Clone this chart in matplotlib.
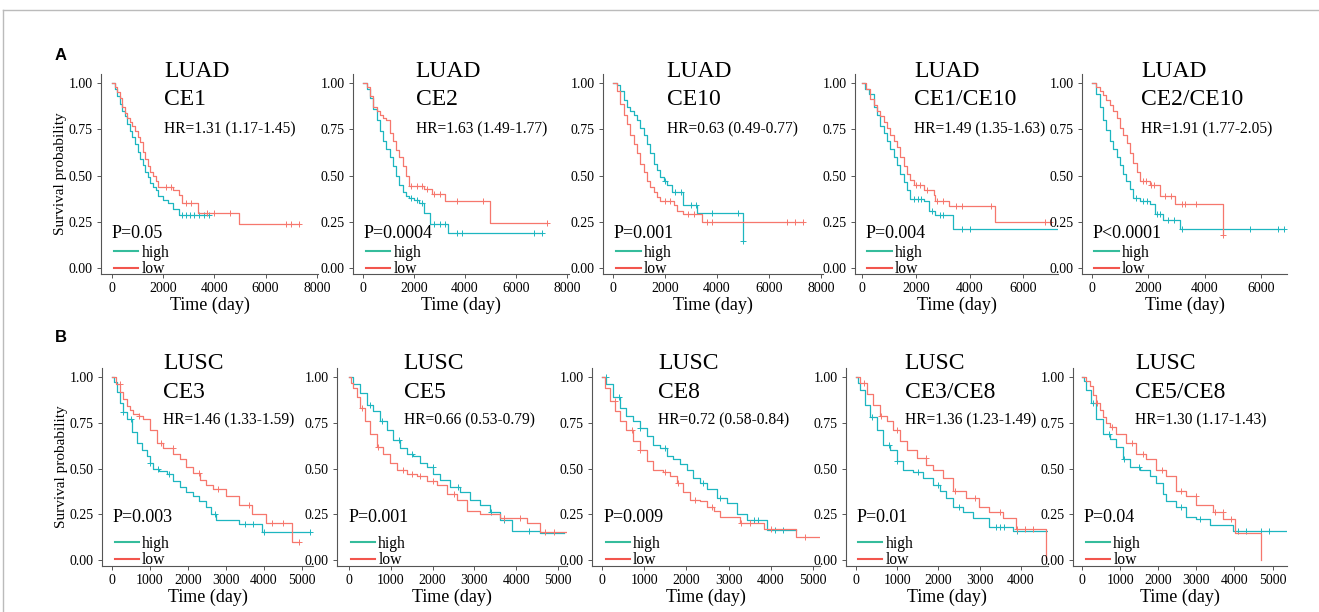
import numpy as np
import matplotlib
matplotlib.use("Agg")
import matplotlib.pyplot as plt
from matplotlib.lines import Line2D

plt.rcParams['font.family'] = ['Liberation Serif', 'DejaVu Serif']

# ---- data: Kaplan-Meier step curves (time in days, survival) + censor times ----
# LUAD CE1
luad_ce1_high_t = [0, 100, 200, 300, 400, 500, 600, 700, 800, 900, 1000, 1100, 1200, 1300, 1400, 1500, 1600, 1700, 1800, 2000, 2200, 2400, 2600, 3780]
luad_ce1_high_s = [1.0, 0.97, 0.93, 0.89, 0.85, 0.82, 0.78, 0.74, 0.71, 0.67, 0.63, 0.59, 0.56, 0.52, 0.49, 0.46, 0.44, 0.42, 0.39, 0.37, 0.35, 0.32, 0.286, 0.286]
luad_ce1_high_c = [2750, 2900, 3050, 3200, 3400, 3600, 3780]
luad_ce1_low_t = [0, 100, 200, 300, 400, 500, 600, 700, 800, 900, 1000, 1100, 1200, 1300, 1400, 1500, 1600, 1700, 1800, 2400, 2600, 2750, 3350, 4950, 7300]
luad_ce1_low_s = [1.0, 0.98, 0.95, 0.92, 0.87, 0.84, 0.81, 0.79, 0.77, 0.74, 0.71, 0.68, 0.63, 0.59, 0.55, 0.52, 0.50, 0.47, 0.44, 0.42, 0.395, 0.35, 0.295, 0.237, 0.237]
luad_ce1_low_c = [2100, 2300, 2900, 3100, 3700, 4000, 4600, 6800, 7000, 7300]

# LUAD CE2
luad_ce2_high_t = [0, 150, 280, 400, 535, 660, 790, 920, 1045, 1170, 1300, 1420, 1550, 1680, 1810, 2000, 2190, 2380, 2640, 3340, 7000]
luad_ce2_high_s = [1.0, 0.97, 0.92, 0.86, 0.80, 0.74, 0.69, 0.645, 0.60, 0.55, 0.50, 0.45, 0.41, 0.39, 0.38, 0.37, 0.35, 0.30, 0.24, 0.19, 0.19]
luad_ce2_high_c = [1900, 2100, 2300, 2800, 3000, 3200, 3700, 3900, 6700, 7000]
luad_ce2_low_t = [0, 150, 280, 410, 540, 665, 790, 920, 1045, 1170, 1300, 1420, 1550, 1680, 1810, 2380, 2700, 3210, 4970, 7230]
luad_ce2_low_s = [1.0, 0.98, 0.93, 0.87, 0.85, 0.83, 0.81, 0.80, 0.73, 0.69, 0.64, 0.60, 0.55, 0.50, 0.445, 0.425, 0.40, 0.36, 0.245, 0.245]
luad_ce2_low_c = [1900, 2100, 2300, 2500, 2800, 3000, 3700, 4700, 7230]

# LUAD CE10
luad_ce10_high_t = [0, 150, 280, 410, 540, 660, 790, 920, 1050, 1180, 1300, 1430, 1560, 1690, 1815, 1950, 2070, 2260, 2710, 3220, 5010]
luad_ce10_high_s = [1.0, 0.99, 0.96, 0.91, 0.87, 0.85, 0.83, 0.80, 0.76, 0.72, 0.67, 0.62, 0.565, 0.53, 0.49, 0.47, 0.45, 0.41, 0.34, 0.295, 0.147]
luad_ce10_high_c = [2000, 2400, 2600, 3000, 3200, 3800, 4800, 5010]
luad_ce10_low_t = [0, 150, 280, 410, 540, 660, 790, 920, 1050, 1180, 1300, 1430, 1560, 1690, 1815, 2330, 2460, 2710, 3410, 7310]
luad_ce10_low_s = [1.0, 0.96, 0.89, 0.83, 0.78, 0.72, 0.67, 0.62, 0.565, 0.52, 0.47, 0.44, 0.41, 0.385, 0.36, 0.34, 0.31, 0.29, 0.25, 0.25]
luad_ce10_low_c = [2000, 2200, 2900, 3100, 3600, 3800, 6700, 7000, 7310]

# LUAD CE1/CE10
luad_ce1ce10_high_t = [0, 130, 250, 430, 560, 680, 800, 930, 1050, 1175, 1300, 1420, 1545, 1670, 1800, 2290, 2480, 2720, 3400, 7240]
luad_ce1ce10_high_s = [1.0, 0.97, 0.94, 0.87, 0.83, 0.77, 0.73, 0.69, 0.645, 0.60, 0.555, 0.51, 0.465, 0.42, 0.375, 0.36, 0.31, 0.285, 0.21, 0.21]
luad_ce1ce10_high_c = [1950, 2100, 2200, 2600, 2900, 3000, 3700, 4000]
luad_ce1ce10_low_t = [0, 150, 310, 430, 560, 680, 800, 930, 1050, 1175, 1300, 1420, 1550, 1670, 1800, 1920, 2290, 2660, 2720, 3220, 4930, 7000]
luad_ce1ce10_low_s = [1.0, 0.97, 0.915, 0.88, 0.85, 0.82, 0.79, 0.755, 0.72, 0.69, 0.655, 0.60, 0.55, 0.51, 0.475, 0.45, 0.42, 0.395, 0.36, 0.335, 0.25, 0.25]
luad_ce1ce10_low_c = [2000, 2150, 2400, 2800, 3000, 3500, 3700, 4800, 6800, 7000]

# LUAD CE2/CE10
luad_ce2ce10_high_t = [0, 155, 270, 390, 510, 630, 750, 870, 990, 1100, 1220, 1340, 1460, 1700, 2050, 2230, 2520, 3120, 6810]
luad_ce2ce10_high_s = [1.0, 0.94, 0.87, 0.80, 0.745, 0.69, 0.645, 0.60, 0.555, 0.51, 0.47, 0.43, 0.38, 0.36, 0.345, 0.29, 0.26, 0.21, 0.21]
luad_ce2ce10_high_c = [1550, 1800, 1950, 2300, 2400, 2700, 2900, 3200, 5600, 6600, 6810]
luad_ce2ce10_low_t = [0, 150, 270, 390, 510, 630, 750, 870, 990, 1110, 1230, 1350, 1460, 1580, 1700, 2050, 2410, 2950, 4640]
luad_ce2ce10_low_s = [1.0, 0.98, 0.96, 0.935, 0.91, 0.88, 0.85, 0.81, 0.76, 0.72, 0.675, 0.62, 0.57, 0.52, 0.47, 0.45, 0.39, 0.345, 0.18]
luad_ce2ce10_low_c = [1800, 1900, 2100, 2200, 2600, 2800, 3200, 3300, 3700, 4640]

# LUSC CE3
lusc_ce3_high_t = [0, 50, 130, 217, 300, 391, 520, 652, 780, 913, 1000, 1087, 1250, 1435, 1600, 1783, 1950, 2130, 2300, 2478, 2600, 2739, 3348, 3957, 5200]
lusc_ce3_high_s = [1.0, 0.975, 0.92, 0.86, 0.81, 0.77, 0.70, 0.64, 0.60, 0.57, 0.53, 0.50, 0.485, 0.47, 0.43, 0.40, 0.37, 0.35, 0.32, 0.29, 0.25, 0.22, 0.196, 0.155, 0.155]
lusc_ce3_high_c = [300, 500, 1000, 1200, 1500, 2700, 3500, 3700, 4000, 5200]
lusc_ce3_low_t = [0, 100, 217, 300, 391, 480, 565, 700, 826, 1000, 1174, 1348, 1609, 1800, 1957, 2130, 2304, 2480, 2652, 3000, 3348, 3696, 4043, 4739, 4913]
lusc_ce3_low_s = [1.0, 0.96, 0.92, 0.88, 0.84, 0.82, 0.80, 0.785, 0.77, 0.71, 0.64, 0.61, 0.58, 0.55, 0.51, 0.475, 0.44, 0.41, 0.39, 0.35, 0.30, 0.25, 0.205, 0.10, 0.10]
lusc_ce3_low_c = [200, 700, 1300, 1600, 2300, 2800, 3600, 4200, 4500, 4913]

# LUSC CE5
lusc_ce5_high_t = [0, 100, 263, 422, 582, 741, 900, 1060, 1219, 1378, 1538, 1697, 1857, 2016, 2175, 2414, 2653, 2892, 3131, 3371, 3610, 3889, 4566, 5150]
lusc_ce5_high_s = [1.0, 0.96, 0.915, 0.85, 0.815, 0.76, 0.71, 0.655, 0.61, 0.58, 0.57, 0.53, 0.51, 0.47, 0.44, 0.40, 0.37, 0.33, 0.30, 0.26, 0.22, 0.16, 0.145, 0.145]
lusc_ce5_high_c = [500, 800, 1200, 1500, 2000, 2600, 3400, 3700, 4300]
lusc_ce5_low_t = [0, 50, 104, 183, 263, 382, 502, 661, 821, 980, 1139, 1378, 1618, 1857, 2096, 2335, 2574, 2813, 3131, 3610, 4247, 4566, 5203]
lusc_ce5_low_s = [1.0, 0.97, 0.94, 0.89, 0.83, 0.76, 0.69, 0.62, 0.58, 0.53, 0.49, 0.47, 0.46, 0.43, 0.41, 0.36, 0.33, 0.27, 0.25, 0.23, 0.20, 0.155, 0.155]
lusc_ce5_low_c = [300, 700, 1300, 1500, 1700, 2000, 2500, 3700, 4100, 4700, 4900]

# LUSC CE8
lusc_ce8_high_t = [0, 103, 262, 420, 579, 738, 897, 1056, 1214, 1373, 1532, 1690, 1849, 2008, 2167, 2325, 2484, 2722, 2960, 3198, 3437, 3913, 4587]
lusc_ce8_high_s = [1.0, 0.96, 0.89, 0.83, 0.79, 0.76, 0.72, 0.68, 0.63, 0.61, 0.57, 0.55, 0.525, 0.49, 0.45, 0.42, 0.39, 0.34, 0.31, 0.25, 0.22, 0.165, 0.165]
lusc_ce8_high_c = [100, 400, 900, 1500, 2400, 2800, 3600, 3700, 4100, 4300]
lusc_ce8_low_t = [0, 63, 183, 302, 420, 579, 738, 897, 1056, 1214, 1452, 1611, 1770, 1929, 2087, 2325, 2484, 2643, 2802, 3278, 3833, 4587, 5183]
lusc_ce8_low_s = [1.0, 0.94, 0.87, 0.815, 0.76, 0.71, 0.65, 0.60, 0.54, 0.49, 0.48, 0.46, 0.42, 0.37, 0.33, 0.32, 0.29, 0.27, 0.235, 0.20, 0.17, 0.125, 0.125]
lusc_ce8_low_c = [300, 700, 900, 1500, 1800, 2200, 2600, 3300, 3500, 4000, 4800]

# LUSC CE3/CE8
lusc_ce3ce8_high_t = [0, 50, 104, 225, 345, 506, 667, 827, 988, 1149, 1390, 1631, 1871, 2032, 2193, 2353, 2594, 2835, 3237, 3799, 4643]
lusc_ce3ce8_high_s = [1.0, 0.97, 0.93, 0.85, 0.78, 0.71, 0.63, 0.60, 0.54, 0.49, 0.48, 0.45, 0.41, 0.38, 0.34, 0.29, 0.26, 0.23, 0.18, 0.16, 0.16]
lusc_ce3ce8_high_c = [400, 800, 1000, 1500, 2000, 2500, 3400, 3500, 3600, 3900]
lusc_ce3ce8_low_t = [0, 104, 265, 426, 586, 747, 908, 1068, 1229, 1470, 1711, 1871, 2112, 2353, 2675, 2996, 3237, 3558, 3879, 4602]
lusc_ce3ce8_low_s = [1.0, 0.97, 0.91, 0.85, 0.79, 0.76, 0.71, 0.65, 0.60, 0.56, 0.52, 0.49, 0.45, 0.38, 0.34, 0.29, 0.26, 0.23, 0.17, 0.0]
lusc_ce3ce8_low_c = [200, 600, 1000, 1700, 2400, 2900, 3500, 3900, 4100, 4300]

# LUSC CE5/CE8
lusc_ce5ce8_high_t = [0, 50, 114, 245, 377, 552, 727, 902, 1077, 1252, 1515, 1777, 1952, 2127, 2215, 2478, 2741, 3004, 3354, 3967, 5368]
lusc_ce5ce8_high_s = [1.0, 0.98, 0.93, 0.86, 0.77, 0.69, 0.66, 0.62, 0.55, 0.51, 0.49, 0.46, 0.42, 0.36, 0.32, 0.29, 0.235, 0.225, 0.19, 0.16, 0.16]
lusc_ce5ce8_high_c = [300, 700, 1100, 1500, 2600, 3100, 4100, 4300, 4700, 4900]
lusc_ce5ce8_low_t = [0, 100, 201, 290, 377, 470, 552, 640, 727, 902, 1165, 1427, 1690, 1952, 2215, 2478, 2741, 3004, 3441, 3704, 4011, 4685]
lusc_ce5ce8_low_s = [1.0, 0.98, 0.95, 0.90, 0.86, 0.82, 0.78, 0.75, 0.73, 0.69, 0.64, 0.58, 0.55, 0.49, 0.46, 0.38, 0.35, 0.30, 0.26, 0.225, 0.15, 0.0]
lusc_ce5ce8_low_c = [400, 800, 1300, 1600, 2100, 2600, 3000, 3500, 3700, 3900]

cohorts = ['LUAD'] * 5 + ['LUSC'] * 5
genes = ['CE1', 'CE2', 'CE10', 'CE1/CE10', 'CE2/CE10', 'CE3', 'CE5', 'CE8', 'CE3/CE8', 'CE5/CE8']
hr_labels = ['HR=1.31 (1.17-1.45)', 'HR=1.63 (1.49-1.77)', 'HR=0.63 (0.49-0.77)',
             'HR=1.49 (1.35-1.63)', 'HR=1.91 (1.77-2.05)', 'HR=1.46 (1.33-1.59)',
             'HR=0.66 (0.53-0.79)', 'HR=0.72 (0.58-0.84)', 'HR=1.36 (1.23-1.49)',
             'HR=1.30 (1.17-1.43)']
p_labels = ['P=0.05', 'P=0.0004', 'P=0.001', 'P=0.004', 'P<0.0001',
            'P=0.003', 'P=0.001', 'P=0.009', 'P=0.01', 'P=0.04']

high_curves = [
    (luad_ce1_high_t, luad_ce1_high_s, luad_ce1_high_c),
    (luad_ce2_high_t, luad_ce2_high_s, luad_ce2_high_c),
    (luad_ce10_high_t, luad_ce10_high_s, luad_ce10_high_c),
    (luad_ce1ce10_high_t, luad_ce1ce10_high_s, luad_ce1ce10_high_c),
    (luad_ce2ce10_high_t, luad_ce2ce10_high_s, luad_ce2ce10_high_c),
    (lusc_ce3_high_t, lusc_ce3_high_s, lusc_ce3_high_c),
    (lusc_ce5_high_t, lusc_ce5_high_s, lusc_ce5_high_c),
    (lusc_ce8_high_t, lusc_ce8_high_s, lusc_ce8_high_c),
    (lusc_ce3ce8_high_t, lusc_ce3ce8_high_s, lusc_ce3ce8_high_c),
    (lusc_ce5ce8_high_t, lusc_ce5ce8_high_s, lusc_ce5ce8_high_c),
]
low_curves = [
    (luad_ce1_low_t, luad_ce1_low_s, luad_ce1_low_c),
    (luad_ce2_low_t, luad_ce2_low_s, luad_ce2_low_c),
    (luad_ce10_low_t, luad_ce10_low_s, luad_ce10_low_c),
    (luad_ce1ce10_low_t, luad_ce1ce10_low_s, luad_ce1ce10_low_c),
    (luad_ce2ce10_low_t, luad_ce2ce10_low_s, luad_ce2ce10_low_c),
    (lusc_ce3_low_t, lusc_ce3_low_s, lusc_ce3_low_c),
    (lusc_ce5_low_t, lusc_ce5_low_s, lusc_ce5_low_c),
    (lusc_ce8_low_t, lusc_ce8_low_s, lusc_ce8_low_c),
    (lusc_ce3ce8_low_t, lusc_ce3ce8_low_s, lusc_ce3ce8_low_c),
    (lusc_ce5ce8_low_t, lusc_ce5ce8_low_s, lusc_ce5ce8_low_c),
]

x_ticks = [[0, 2000, 4000, 6000, 8000]] * 3 + [[0, 2000, 4000, 6000]] * 2 + \
          [[0, 1000, 2000, 3000, 4000, 5000]] * 3 + [[0, 1000, 2000, 3000, 4000]] + \
          [[0, 1000, 2000, 3000, 4000, 5000]]
y_ticks = [0, 0.25, 0.5, 0.75, 1.0]

# ---- layout (pixels of the 1319x612 canvas) ----
W, H = 1319, 612
col_px = [(101, 318), (353, 569), (603, 823), (855, 1058), (1082, 1287),
          (102, 313), (337, 567), (592, 820), (846, 1048), (1073, 1287)]
xlims = [(-430, 8047), (-392, 8078), (-385, 8077), (-260, 7286), (-355, 6915),
         (-263, 5290), (-287, 5215), (-237, 5166), (-241, 4660), (-236, 5380)]
row_px = [(74, 273.5), (368, 565.5)]

TEAL = '#1DB6C0'
RED = '#F6776D'
LEG_TEAL = '#35BC9C'
LEG_RED = '#F2554D'

fig = plt.figure(figsize=(W / 100, H / 100), dpi=100)


def surv_at(t, s, c):
    idx = np.searchsorted(np.asarray(t), np.asarray(c), side='right') - 1
    return np.asarray(s)[idx]


for i in range(10):
    row = i // 5
    x0, x1 = col_px[i]
    top, bot = row_px[row]
    ax = fig.add_axes([x0 / W, 1 - bot / H, (x1 - x0) / W, (bot - top) / H])

    for (t, s, c), col in ((high_curves[i], TEAL), (low_curves[i], RED)):
        ax.step(t, s, where='post', color=col, lw=0.9)
        ax.plot(c, surv_at(t, s, c), ls='none', marker='+', ms=4, mew=0.7, color=col)

    ax.set_xlim(*xlims[i])
    ax.set_ylim(-0.03, 1.05)
    ax.set_xticks(x_ticks[i])
    ax.set_yticks(y_ticks)
    ax.set_yticklabels(['%.2f' % v for v in y_ticks])
    for sp in ('top', 'right'):
        ax.spines[sp].set_visible(False)
    for sp in ('left', 'bottom'):
        ax.spines[sp].set_color('#555555')
        ax.spines[sp].set_linewidth(0.8)
    ax.tick_params(length=3, width=0.7, color='#555555', labelsize=10, pad=3)
    ax.set_xlabel('Time (day)', fontsize=13, labelpad=1)
    if i % 5 == 0:
        ax.set_ylabel('Survival probability', fontsize=11, labelpad=1)

    tx = 0.29
    if row == 0:
        yt, yc, yh, yp, yl = 1.015, 0.87, 0.724, 0.20, -0.02
    else:
        yt, yc, yh, yp, yl = 1.025, 0.877, 0.735, 0.245, -0.015
    ax.text(tx, yt, cohorts[i], transform=ax.transAxes, fontsize=17, va='center', ha='left')
    ax.text(tx, yc, genes[i], transform=ax.transAxes, fontsize=17, va='center', ha='left')
    ax.text(tx, yh, hr_labels[i], transform=ax.transAxes, fontsize=11.2, va='center', ha='left')
    ax.text(0.05, yp, p_labels[i], transform=ax.transAxes, fontsize=13, va='center', ha='left')

    handles = [Line2D([], [], color=LEG_TEAL, lw=1.5, label='high'),
               Line2D([], [], color=LEG_RED, lw=1.5, label='low')]
    ax.legend(handles=handles, loc='lower left', bbox_to_anchor=(0.06, yl),
              frameon=False, fontsize=11.3, handlelength=1.55, handletextpad=0.2,
              labelspacing=0.05, borderaxespad=0, borderpad=0)

fig.text(61 / W, 1 - 55 / H, 'A', fontsize=12, fontweight='bold', family='Liberation Sans',
         ha='center', va='center')
fig.text(61 / W, 1 - 338 / H, 'B', fontsize=12, fontweight='bold', family='Liberation Sans',
         ha='center', va='center')

# outer frame of the figure panel
fig.add_artist(Line2D([3 / W, 1], [1 - 10 / H, 1 - 10 / H], color='#bbbbbb', lw=1))
fig.add_artist(Line2D([3 / W, 3 / W], [0, 1 - 10 / H], color='#bbbbbb', lw=1))

fig.savefig('out.png', dpi=100)
